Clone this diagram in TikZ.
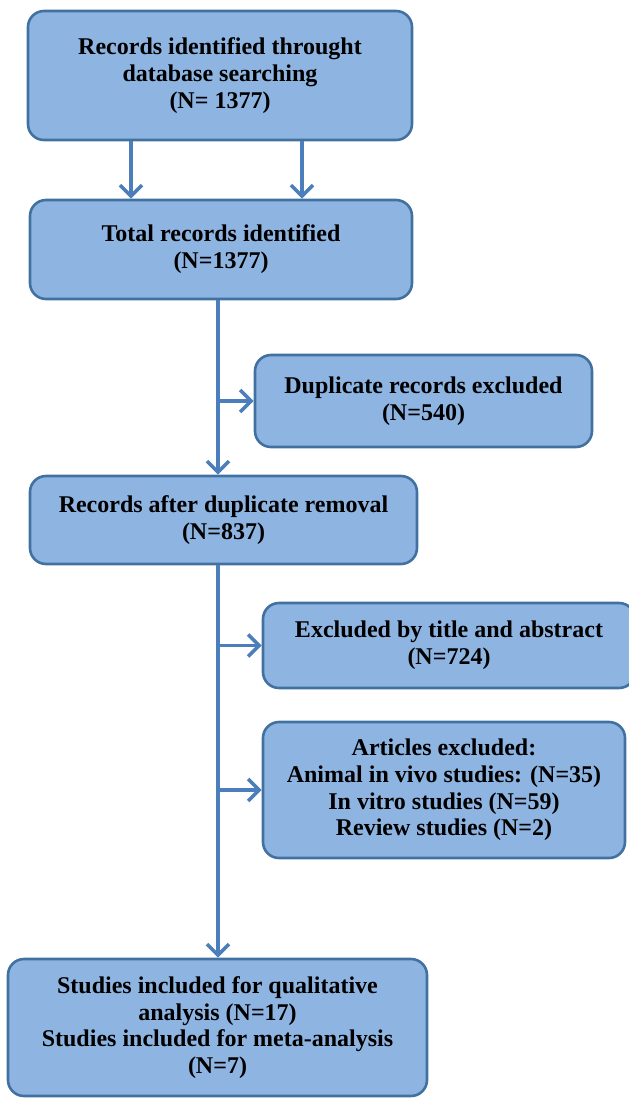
\documentclass[tikz,border=0pt]{standalone}
\usepackage{fontspec}
\setmainfont{Liberation Serif}
\usetikzlibrary{arrows.meta}
\definecolor{boxfill}{RGB}{142,180,226}
\definecolor{boxline}{RGB}{65,113,160}
\definecolor{arrowc}{RGB}{76,126,187}
\tikzset{
  flowbox/.style={draw=boxline, fill=boxfill, line width=2.6pt, rounded corners=16pt,
    align=center, inner sep=0pt, font=\bfseries\fontsize{24}{26.8}\selectfont},
  flowarrow/.style={draw=arrowc, line width=3.6pt,
    -{Straight Barb[length=11pt,width=22pt,line width=3.6pt]}}
}
\begin{document}
\begin{tikzpicture}[x=1pt,y=-1pt]
\useasboundingbox (0,0) rectangle (629,1098);
\node[flowbox, minimum width=384pt, minimum height=129pt] (b1) at (220,75.5)
  {Records identified throught\\database searching\\(N= 1377)};
\node[flowbox, minimum width=382pt, minimum height=99pt] (b2) at (221,249.5)
  {Total records identified\\(N=1377)};
\node[flowbox, minimum width=337pt, minimum height=92pt] (b3) at (423.5,401)
  {Duplicate records excluded\\(N=540)};
\node[flowbox, minimum width=387pt, minimum height=88pt] (b4) at (223.5,520)
  {Records after duplicate removal\\(N=837)};
\node[flowbox, minimum width=372pt, minimum height=85pt] (b5) at (449,645.5)
  {Excluded by title and abstract\\(N=724)};
\node[flowbox, minimum width=362pt, minimum height=136pt] (b6) at (444,790)
  {Articles excluded:\\Animal in vivo studies: (N=35)\\In vitro studies (N=59)\\Review studies (N=2)};
\node[flowbox, minimum width=419pt, minimum height=137pt] (b7) at (217.5,1027.5)
  {Studies included for qualitative\\analysis (N=17)\\Studies included for meta-analysis\\(N=7)};
\coordinate (aL) at (131,0);
\coordinate (aR) at (302,0);
\coordinate (m) at (218,0);
\draw[flowarrow] (b1.south -| aL) -- (b2.north -| aL);
\draw[flowarrow] (b1.south -| aR) -- (b2.north -| aR);
\draw[flowarrow] (b2.south -| m) -- (b4.north -| m);
\draw[flowarrow] (b3.west -| m) -- (b3.west);
\draw[flowarrow] (b4.south -| m) -- (b7.north -| m);
\draw[flowarrow] (b5.west -| m) -- (b5.west);
\draw[flowarrow] (b6.west -| m) -- (b6.west);
\end{tikzpicture}
\end{document}
